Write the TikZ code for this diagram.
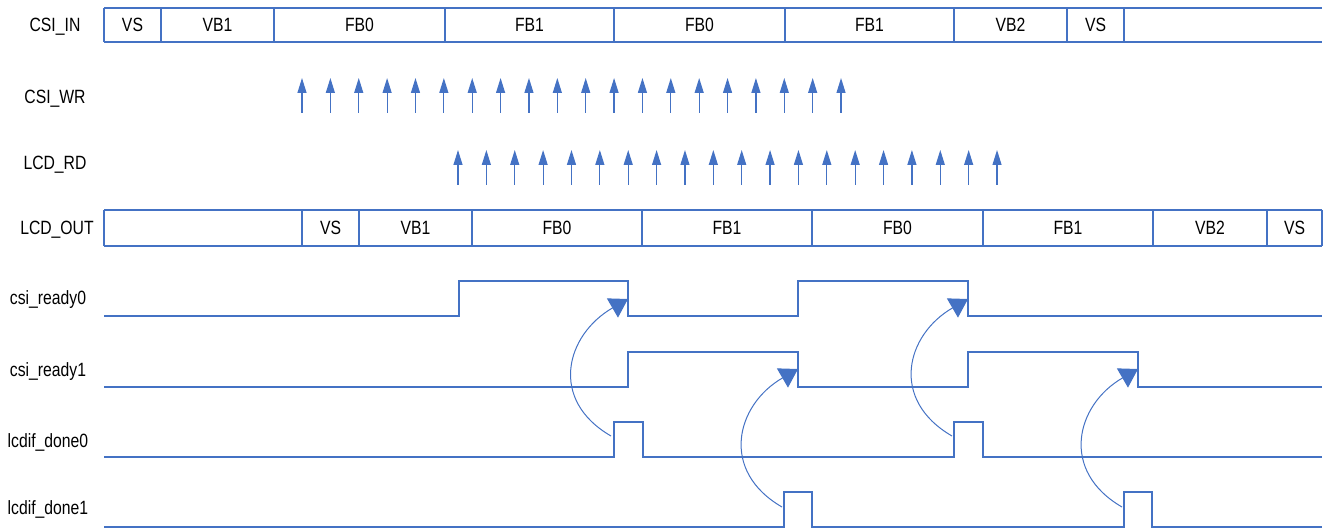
\documentclass[tikz,border=0pt]{standalone}
\usepackage{fontspec}
\setmainfont{Liberation Sans}[FakeStretch=0.82]
\usetikzlibrary{arrows.meta}

\definecolor{sigblue}{HTML}{4472C4}

\begin{document}
\begin{tikzpicture}[x=0.5pt, y=-0.5pt,
  wave/.style={draw=sigblue, line width=0.75pt},
  sig/.style={font=\fontsize{9.6}{11}\selectfont, anchor=center, text depth=0pt},
  tick/.style={draw=sigblue, line width=0.6pt, -{Triangle[length=7.5pt, width=4.5pt]}},
  hook/.style={draw=sigblue, line width=0.5pt, -{Triangle[length=9pt, width=11pt]}}]
\useasboundingbox (0,0) rectangle (1324,528);

% signal names
\node[sig] (nin)  at (55,25)  {CSI\_IN};
\node[sig] (nwr)  at (55,97)  {CSI\_WR};
\node[sig] (nrd)  at (55,163) {LCD\_RD};
\node[sig] (nout) at (57,228) {LCD\_OUT};
\node[sig] (nr0)  at (48,298) {csi\_ready0};
\node[sig] (nr1)  at (48,370) {csi\_ready1};
\node[sig] (nd0)  at (48,441) {lcdif\_done0};
\node[sig] (nd1)  at (48,508) {lcdif\_done1};

% CSI_IN bus
\draw[wave] (104,8) -- (1322,8) (104,42) -- (1322,42);
\foreach \a/\b/\t [count=\k] in {104/161/VS, 161/274/VB1, 274/445/FB0, 445/614/FB1,
    614/785/FB0, 785/954/FB1, 954/1067/VB2, 1067/1124/VS} {
  \draw[wave] (\a,8) -- (\a,42) (\b,8) -- (\b,42);
  \node[sig] (in\k) at ({(\a+\b)/2},25) {\t};
}

% write / read strobes
\foreach \i in {0,...,19} {
  \draw[tick] ({302+28.37*\i},113) -- ({302+28.37*\i},78);
  \draw[tick] ({458+28.37*\i},185) -- ({458+28.37*\i},150);
}

% LCD_OUT bus
\draw[wave] (104,210) -- (1322,210) (104,246) -- (1322,246) (104,210) -- (104,246);
\foreach \a/\b/\t [count=\k] in {302/359/VS, 359/472/VB1, 472/642/FB0, 642/812/FB1,
    812/983/FB0, 983/1153/FB1, 1153/1267/VB2, 1267/1322/VS} {
  \draw[wave] (\a,210) -- (\a,246) (\b,210) -- (\b,246);
  \node[sig] (out\k) at ({(\a+\b)/2},228) {\t};
}

% ready / done waves
\draw[wave] (104,316) -- (459,316) -- (459,281) -- (628,281) -- (628,316)
  -- (798,316) -- (798,281) -- (968,281) -- (968,316) -- (1322,316);
\draw[wave] (104,387) -- (628,387) -- (628,352) -- (798,352) -- (798,387)
  -- (968,387) -- (968,352) -- (1138,352) -- (1138,387) -- (1322,387);
\draw[wave] (104,457) -- (614,457) -- (614,422) -- (643,422) -- (643,457)
  -- (954,457) -- (954,422) -- (983,422) -- (983,457) -- (1322,457);
\draw[wave] (104,527) -- (784,527) -- (784,492) -- (812,492) -- (812,527)
  -- (1124,527) -- (1124,492) -- (1152,492) -- (1152,527) -- (1322,527);

% done -> ready hand-over
\coordinate (d0a) at (611,436);  \coordinate (r0a) at (628,299);
\coordinate (d1a) at (782,507);  \coordinate (r1a) at (798,369);
\coordinate (d0b) at (952,436);  \coordinate (r0b) at (968,299);
\coordinate (d1b) at (1122,507); \coordinate (r1b) at (1138,369);
\foreach \s/\e in {d0a/r0a, d1a/r1a, d0b/r0b, d1b/r1b}
  \draw[hook] (\s) .. controls +(210:72) and +(150:72) .. (\e);
\end{tikzpicture}
\end{document}
